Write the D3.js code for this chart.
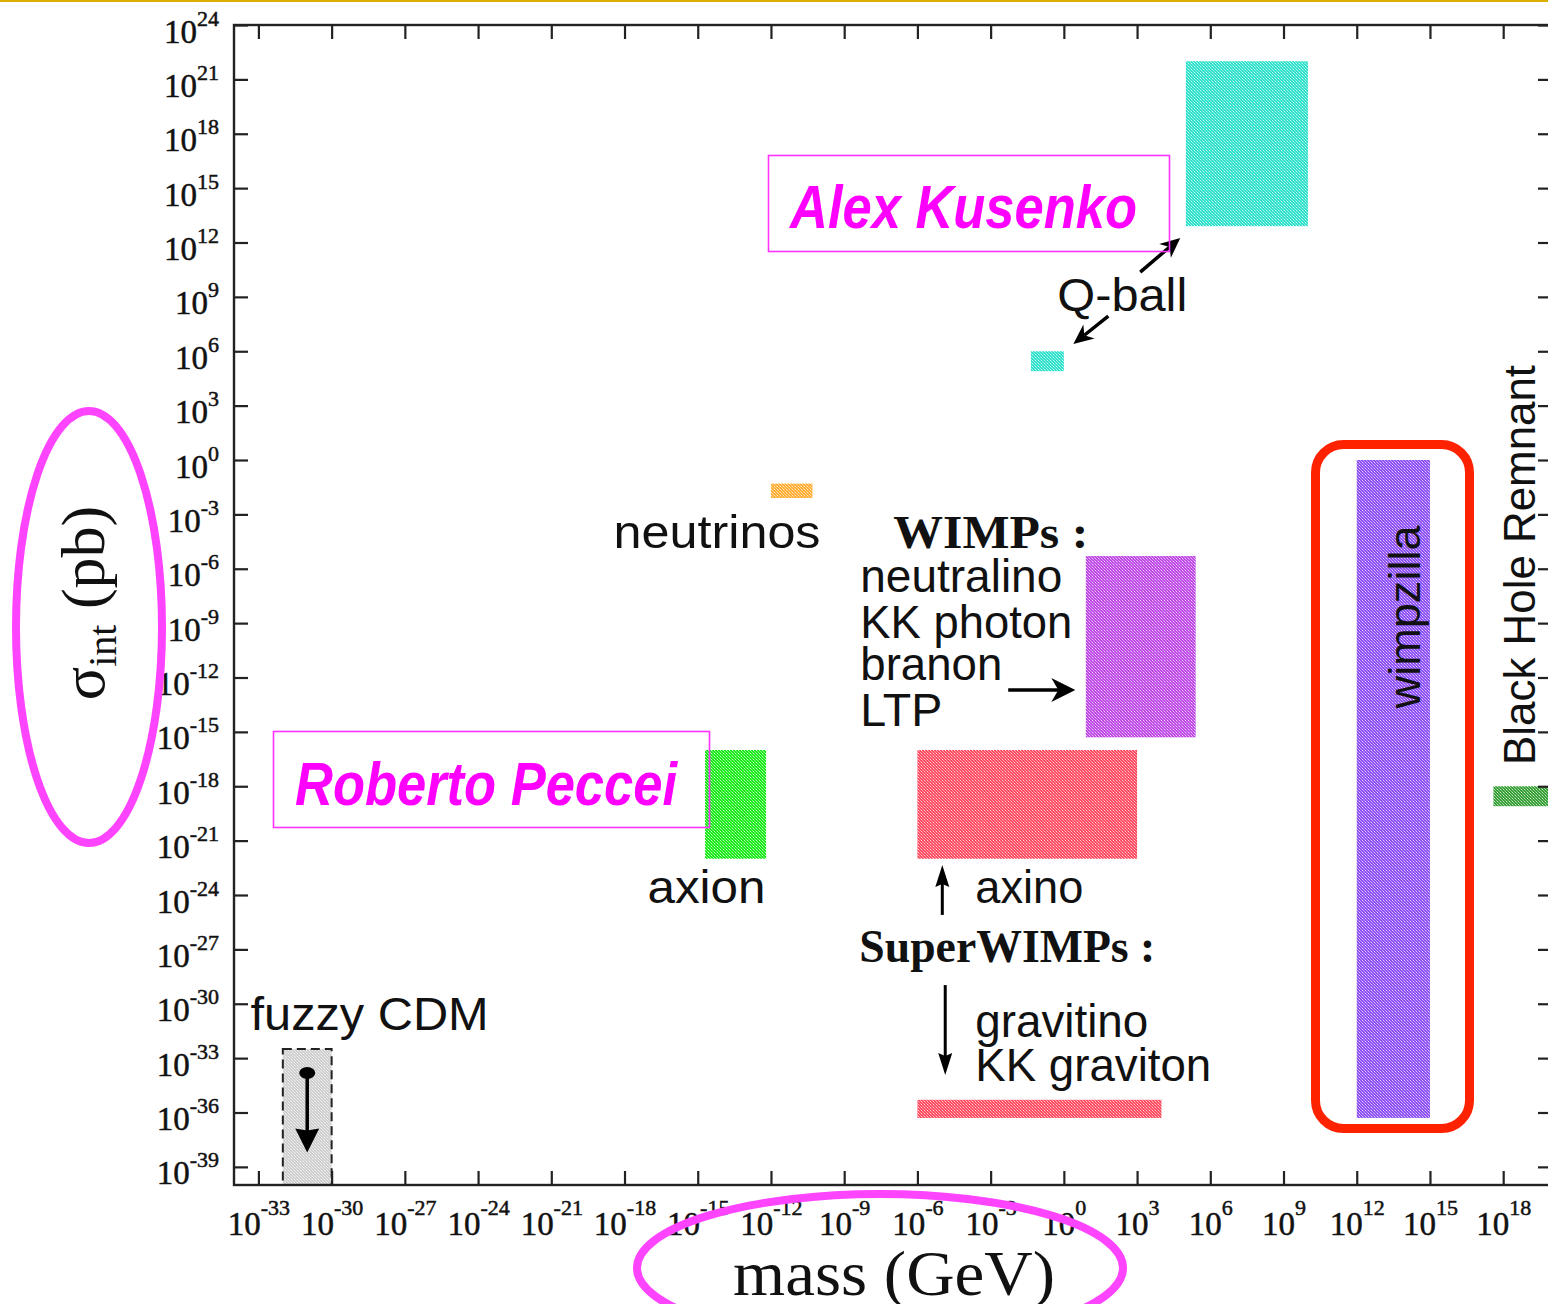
<!DOCTYPE html>
<html><head><meta charset="utf-8">
<script src="https://cdn.jsdelivr.net/npm/d3@7"></script>
<style>html,body{margin:0;padding:0;background:#fff;} svg{display:block;}</style>
</head><body>
<svg id="chart" width="1548" height="1304"></svg>
<script>
// ---------------- DATA (log10 exponents) ----------------
const candidates  = ["fuzzy CDM","neutrinos","axion","axino","gravitino","WIMPs","Q-ball light","Q-ball heavy","wimpzilla","Black Hole Remnant"];
const massMinExp  = [-32,   -12,  -14.7, -6,   -6,    0.9,  -1.35, 5,    12,    17.6];
const massMaxExp  = [-30,   -10.3,-12.2,  3,    4,    5.4,   0,    10,   15,    20];
const sigmaMinExp = [-40,   -2.1, -22,  -22,  -36.3, -15.3,  4.9,  12.9, -36.3, -19.1];
const sigmaMaxExp = [-32.5, -1.3, -16,  -16,  -35.3, -5.3,   6,    22,    0,    -18];

const massTickExps  = d3.range(-33, 19, 3);
const sigmaTickExps = d3.range(24, -40, -3);

// text labels anchored at (log mass, log sigma) = start of baseline
const labelTexts = ["fuzzy CDM","neutrinos","WIMPs :","neutralino","KK photon","branon","LTP","axion","axino","SuperWIMPs :","gravitino","KK graviton","Q-ball"];
const labelMass  = [-33.32, -18.45, -6.99, -8.34, -8.34, -8.34, -8.34, -17.06, -3.63, -8.38, -3.63, -3.63, -0.27];
const labelSigma = [-31.45, -4.86,  -4.86, -7.28, -9.82, -12.14,-14.68,-24.44, -24.44,-27.7, -31.83,-34.26, 8.22];

// arrows (log mass, log sigma): from -> to
const arrowFromMass  = [-2.28, -4.98, -4.86, 3.13, 1.82];
const arrowFromSigma = [-12.69,-25.1, -28.97,10.37, 7.94];
const arrowToMass    = [0.47,  -4.98, -4.86, 4.77, 0.39];
const arrowToSigma   = [-12.69,-22.34,-33.93,12.25, 6.4];
const fuzzyArrowMass = -31.0, fuzzyArrowFrom = -33.82, fuzzyArrowTo = -38.2;

// ---------------- STYLES ----------------
const boxColor = {"fuzzy CDM":"#cfcfcf","neutrinos":"#ffad33","axion":"#1aea1a","axino":"#ff4a60","gravitino":"#ff4a60",
  "WIMPs":"#bd48e6","Q-ball light":"#2fe0cb","Q-ball heavy":"#2fe0cb","wimpzilla":"#8c4ff6","Black Hole Remnant":"#36a036"};
const labelStyle = {
  "fuzzy CDM":{w:238}, "neutrinos":{w:207}, "WIMPs :":{w:195,serif:true}, "neutralino":{w:202}, "KK photon":{w:212},
  "branon":{w:142}, "LTP":{w:82}, "axion":{w:118}, "axino":{w:108}, "SuperWIMPs :":{w:296,serif:true},
  "gravitino":{w:173}, "KK graviton":{w:236}, "Q-ball":{w:130}
};
const SANS = "'Liberation Sans', Arial, sans-serif";
const SERIF = "'Liberation Serif', 'Times New Roman', serif";

const svg = d3.select("#chart");
const L = 234, R = 1552, T = 25, B = 1185;
const x = d3.scaleLog().domain([1e-34, 1e20]).range([L, R]);
const y = d3.scaleLog().domain([1e-40, 1e24]).range([B, T]);
const X = e => x(Math.pow(10, e));
const Y = e => y(Math.pow(10, e));

// top gold slide line
svg.append("rect").attr("x",0).attr("y",0).attr("width",1548).attr("height",2).attr("fill","#dcae00");

// patterns (dither look)
const defs = svg.append("defs");
function lighten(c, t){ const a=d3.rgb(c); return d3.rgb(Math.round(a.r+(255-a.r)*t), Math.round(a.g+(255-a.g)*t), Math.round(a.b+(255-a.b)*t)).formatHex(); }
Object.entries(boxColor).forEach(([k,c],i)=>{
  const p = defs.append("pattern").attr("id","pat"+i).attr("patternUnits","userSpaceOnUse").attr("width",3).attr("height",3);
  p.append("rect").attr("width",3).attr("height",3).attr("fill",c);
  p.append("rect").attr("x",0).attr("y",0).attr("width",1).attr("height",1).attr("fill",lighten(c,0.75));
  p.append("rect").attr("x",1).attr("y",1).attr("width",1).attr("height",1).attr("fill",lighten(c,0.45));
  p.append("rect").attr("x",2).attr("y",2).attr("width",1).attr("height",1).attr("fill",lighten(c,0.45));
  boxColor[k] = {base:c, pat:"url(#pat"+i+")"};
});

// boxes
const gBox = svg.append("g");
candidates.forEach((name,i)=>{
  const x0 = X(massMinExp[i]), x1 = X(massMaxExp[i]);
  const y0 = Y(sigmaMaxExp[i]), y1 = Y(sigmaMinExp[i]);
  const r = gBox.append("rect").attr("x",x0).attr("y",y0).attr("width",x1-x0).attr("height",y1-y0)
    .attr("fill", boxColor[name].pat);
  if (name === "fuzzy CDM") r.attr("stroke","#222").attr("stroke-width",2).attr("stroke-dasharray","9,5");
});

// axes
function fmtLabel(sel, anchor, baseDy, expDy){
  sel.each(function(d){
    const t = d3.select(this);
    t.text(null).attr("text-anchor",anchor).attr("font-family",SERIF).attr("fill","#111")
      .attr("stroke","#111").attr("stroke-width",0.5);
    t.append("tspan").attr("font-size",33).text("10");
    t.append("tspan").attr("font-size",22).attr("dy",expDy).text(String(Math.round(Math.log10(d))));
  });
}
const yVals = sigmaTickExps.map(e=>Math.pow(10,e));
const xVals = massTickExps.map(e=>Math.pow(10,e));

const axL = svg.append("g").attr("transform",`translate(${L},0)`)
  .call(d3.axisLeft(y).tickValues(yVals).tickSizeInner(-14).tickSizeOuter(0).tickPadding(16));
axL.selectAll("text").call(fmtLabel,"end",0,-17).attr("dy",null).attr("y",17).attr("x",-15);
const axR = svg.append("g").attr("transform",`translate(${R},0)`)
  .call(d3.axisRight(y).tickValues(yVals).tickSizeInner(-14).tickSizeOuter(0).tickFormat(""));
const axT = svg.append("g").attr("transform",`translate(0,${T})`)
  .call(d3.axisTop(x).tickValues(xVals).tickSizeInner(-14).tickSizeOuter(0).tickFormat(""));
const axB = svg.append("g").attr("transform",`translate(0,${B})`)
  .call(d3.axisBottom(x).tickValues(xVals).tickSizeInner(-14).tickSizeOuter(0));
axB.selectAll("text").call(fmtLabel,"middle",0,-20).attr("dy",null).attr("y",50).attr("x",0);
[axL,axR,axT,axB].forEach(a=>{ a.select(".domain").remove(); a.selectAll("line").attr("stroke","#222").attr("stroke-width",2.2); });

svg.append("rect").attr("x",L).attr("y",T).attr("width",R-L).attr("height",B-T)
  .attr("fill","none").attr("stroke","#222").attr("stroke-width",2.4);

// axis titles
svg.append("text").attr("x",894).attr("y",1295).attr("text-anchor","middle")
  .attr("font-family",SERIF).attr("font-size",64).attr("fill","#111")
  .attr("textLength",322).attr("lengthAdjust","spacingAndGlyphs").text("mass (GeV)");
const yt = svg.append("text").attr("transform","translate(104,603) rotate(-90)").attr("text-anchor","middle")
  .attr("font-family",SERIF).attr("fill","#111");
yt.append("tspan").attr("font-size",62).text("σ");
yt.append("tspan").attr("font-size",40).attr("dy",12).text("int");
yt.append("tspan").attr("font-size",62).attr("dy",-12).text(" (pb)");

// labels
const gLab = svg.append("g");
labelTexts.forEach((t,i)=>{
  const st = labelStyle[t];
  gLab.append("text").attr("x",X(labelMass[i])).attr("y",Y(labelSigma[i]))
    .attr("font-family", st.serif?SERIF:SANS).attr("font-weight", st.serif?"bold":"normal")
    .attr("font-size",46).attr("fill","#111")
    .attr("textLength",st.w).attr("lengthAdjust","spacingAndGlyphs").text(t);
});
// rotated labels
gLab.append("text").attr("transform",`translate(${X(14.6)},${Y(-8.66)}) rotate(-90)`).attr("text-anchor","middle")
  .attr("font-family",SANS).attr("font-size",45).attr("fill","#111").attr("textLength",183).attr("lengthAdjust","spacingAndGlyphs").text("wimpzilla");
gLab.append("text").attr("transform",`translate(${X(19.3)},${Y(-5.79)}) rotate(-90)`).attr("text-anchor","middle")
  .attr("font-family",SANS).attr("font-size",45).attr("fill","#111").attr("textLength",400).attr("lengthAdjust","spacingAndGlyphs").text("Black Hole Remnant");

// arrows
function arrow(g,x1,y1,x2,y2,hl,hw,notch,w){
  const dx=x2-x1, dy=y2-y1, Ln=Math.hypot(dx,dy), ux=dx/Ln, uy=dy/Ln, px=-uy, py=ux;
  const bx=x2-ux*hl, by=y2-uy*hl;
  g.append("line").attr("x1",x1).attr("y1",y1).attr("x2",x2-ux*hl*0.7).attr("y2",y2-uy*hl*0.7)
    .attr("stroke","#000").attr("stroke-width",w);
  g.append("path").attr("d",`M${x2},${y2}L${bx+px*hw/2},${by+py*hw/2}L${x2-ux*(hl-notch)},${y2-uy*(hl-notch)}L${bx-px*hw/2},${by-py*hw/2}Z`)
    .attr("fill","#000");
}
const gA = svg.append("g");
const arrowHead = [[24,24,7,3.5],[22,14,3,3],[22,14,3,3],[20,18,6,3.5],[20,18,6,3.5]];
arrowFromMass.forEach((m,i)=>{
  const h = arrowHead[i];
  arrow(gA, X(m), Y(arrowFromSigma[i]), X(arrowToMass[i]), Y(arrowToSigma[i]), h[0],h[1],h[2],h[3]);
});
// fuzzy CDM arrow with dot
gA.append("ellipse").attr("cx",X(fuzzyArrowMass)).attr("cy",Y(fuzzyArrowFrom)).attr("rx",8).attr("ry",6).attr("fill","#000");
arrow(gA, X(fuzzyArrowMass), Y(fuzzyArrowFrom), X(fuzzyArrowMass), Y(fuzzyArrowTo), 24, 24, 2, 3.5);

// slide annotations (overlay)
const gO = svg.append("g");
gO.append("rect").attr("x",768.5).attr("y",155.5).attr("width",401).attr("height",96).attr("fill","none").attr("stroke","#ff33ff").attr("stroke-width",1.6);
gO.append("text").attr("x",790).attr("y",228).attr("font-family",SANS).attr("font-weight","bold").attr("font-style","italic")
  .attr("font-size",62).attr("fill","#ff00ff").attr("textLength",347).attr("lengthAdjust","spacingAndGlyphs").text("Alex Kusenko");
gO.append("rect").attr("x",273.5).attr("y",731.5).attr("width",436).attr("height",96).attr("fill","none").attr("stroke","#ff33ff").attr("stroke-width",1.6);
gO.append("text").attr("x",295).attr("y",805).attr("font-family",SANS).attr("font-weight","bold").attr("font-style","italic")
  .attr("font-size",62).attr("fill","#ff00ff").attr("textLength",382).attr("lengthAdjust","spacingAndGlyphs").text("Roberto Peccei");
gO.append("ellipse").attr("cx",89).attr("cy",627).attr("rx",73).attr("ry",216).attr("fill","none").attr("stroke","#ff44ff").attr("stroke-width",8);
gO.append("ellipse").attr("cx",880).attr("cy",1268).attr("rx",243).attr("ry",74).attr("fill","none").attr("stroke","#ff44ff").attr("stroke-width",8);
gO.append("rect").attr("x",1315.5).attr("y",444.5).attr("width",154).attr("height",684).attr("rx",28).attr("fill","none").attr("stroke","#ff2200").attr("stroke-width",9);
</script>
</body></html>
